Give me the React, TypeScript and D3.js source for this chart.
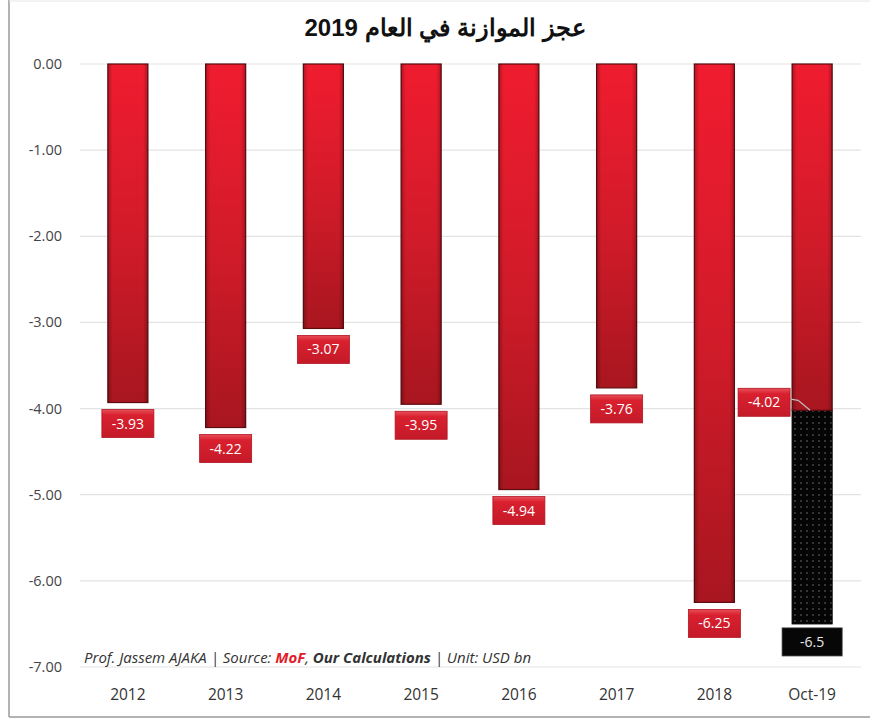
import React from "react";
import * as d3 from "d3";

const categories = ["2012", "2013", "2014", "2015", "2016", "2017", "2018", "Oct-19"];
const deficits = [-3.93, -4.22, -3.07, -3.95, -4.94, -3.76, -6.25, -4.02];
const projectedTotal = -6.5; // Oct-19 extended (black) segment
const yTicks = [0, -1, -2, -3, -4, -5, -6, -7];
const title = "عجز الموازنة في العام 2019";

export default function App() {
  const W = 870, H = 721;
  const x = d3.scaleBand<string>().domain(categories).range([79, 861]).paddingInner(0.59).paddingOuter(0.295);
  const y = d3.scaleLinear().domain([0, -7]).range([64, 667]);
  const bw = x.bandwidth();
  const f2 = d3.format(".2f");
  const fmt = (v: number) => f2(v).replace("\u2212", "-");
  const last = categories[categories.length - 1];
  const lx = x(last)!;

  return (
    <svg width={W} height={H} style={{ position: "absolute", left: 0, top: 0, background: "#fff" }}>
      <defs>
        <linearGradient id="barGrad" x1="0" y1="0" x2="0" y2="1">
          <stop offset="0" stopColor="#f01c2f" />
          <stop offset="0.5" stopColor="#d21b2a" />
          <stop offset="1" stopColor="#a8161f" />
        </linearGradient>
        <linearGradient id="barSide" x1="0" y1="0" x2="1" y2="0">
          <stop offset="0" stopColor="#000" stopOpacity="0.25" />
          <stop offset="0.12" stopColor="#000" stopOpacity="0" />
          <stop offset="0.88" stopColor="#000" stopOpacity="0" />
          <stop offset="1" stopColor="#000" stopOpacity="0.25" />
        </linearGradient>
        <linearGradient id="lblGrad" x1="0" y1="0" x2="0" y2="1">
          <stop offset="0" stopColor="#e8505a" />
          <stop offset="0.2" stopColor="#d9202f" />
          <stop offset="1" stopColor="#c41a28" />
        </linearGradient>
        <pattern id="dots" width="6" height="6" patternUnits="userSpaceOnUse">
          <rect width="6" height="6" fill="#050505" />
          <circle cx="3" cy="3" r="0.9" fill="#4a4a4a" />
        </pattern>
      </defs>
      {/* frame */}
      <line x1={9} x2={9} y1={0} y2={717} stroke="#9a9a9a" strokeWidth={1.5} />
      <line x1={9} x2={870} y1={717} y2={717} stroke="#9a9a9a" strokeWidth={1.5} />
      <line x1={9} x2={870} y1={1} y2={1} stroke="#e6e6e6" strokeWidth={1} />

      <text x={445} y={36} textAnchor="middle" fontFamily="'Liberation Sans', Arial, sans-serif" fontWeight="bold" fontSize={24} fill="#111">{title}</text>

      {yTicks.map((t) => (
        <g key={t}>
          <line x1={80} x2={861} y1={y(t)} y2={y(t)} stroke="#e3e3e3" strokeWidth={1.2} />
          <text x={62} y={y(t) + 5} textAnchor="end" fontFamily="'Open Sans', 'Noto Sans', sans-serif" fontSize={14.5} fill="#444">{fmt(t)}</text>
        </g>
      ))}

      {/* Oct-19 black extension */}
      <rect x={lx} y={y(deficits[7])} width={bw} height={y(projectedTotal) - y(deficits[7])} fill="url(#dots)" stroke="#000" strokeWidth={1} />

      {categories.map((c, i) => {
        const bx = x(c)!;
        const v = deficits[i];
        return (
          <g key={c}>
            <rect x={bx} y={y(0)} width={bw} height={y(v) - y(0)} fill="url(#barGrad)" stroke="#5e0d12" strokeWidth={1.2} />
            <rect x={bx} y={y(0)} width={bw} height={y(v) - y(0)} fill="url(#barSide)" />
          </g>
        );
      })}

      {/* value labels */}
      {categories.map((c, i) => {
        const v = deficits[i];
        const isLast = i === categories.length - 1;
        const bw2 = 52, bh = 28;
        const cx = isLast ? lx - 28 : x(c)! + bw / 2;
        const top = isLast ? y(v) - 22 : y(v) + 7;
        return (
          <g key={"l" + c}>
            {isLast && (
              <polyline points={`${cx + bw2 / 2 - 4},${top + 10} ${lx + 6},${top + 12} ${lx + 18},${y(v)}`} fill="none" stroke="#bdbdbd" strokeWidth={1.2} />
            )}
            <rect x={cx - bw2 / 2} y={top} width={bw2} height={bh} fill="url(#lblGrad)" stroke="#b01522" strokeWidth={0.8} />
            <text x={cx} y={top + 19} textAnchor="middle" fontFamily="'Open Sans', 'Noto Sans', sans-serif" fontSize={14} fill="#fff">{fmt(v)}</text>
          </g>
        );
      })}
      {/* projected total label */}
      <g>
        <rect x={lx + bw / 2 - 30} y={y(projectedTotal) + 4} width={60} height={28} fill="#070707" stroke="#333" strokeWidth={0.8} />
        <text x={lx + bw / 2} y={y(projectedTotal) + 23} textAnchor="middle" fontFamily="'Open Sans', 'Noto Sans', sans-serif" fontSize={14} fill="#e8e8e8">{String(projectedTotal)}</text>
      </g>

      {/* source */}
      <text x={84} y={663} fontFamily="'Open Sans', 'Noto Sans', sans-serif" fontSize={15} fontStyle="italic" fill="#333">
        <tspan>Prof. Jassem AJAKA | Source: </tspan>
        <tspan fill="#e0202c" fontWeight="bold">MoF</tspan>
        <tspan>, </tspan>
        <tspan fontWeight="bold">Our Calculations</tspan>
        <tspan> | Unit: USD bn</tspan>
      </text>

      {categories.map((c) => (
        <text key={"x" + c} x={x(c)! + bw / 2} y={700} textAnchor="middle" fontFamily="'Open Sans', 'Noto Sans', sans-serif" fontSize={15.5} fill="#333">{c}</text>
      ))}
    </svg>
  );
}
